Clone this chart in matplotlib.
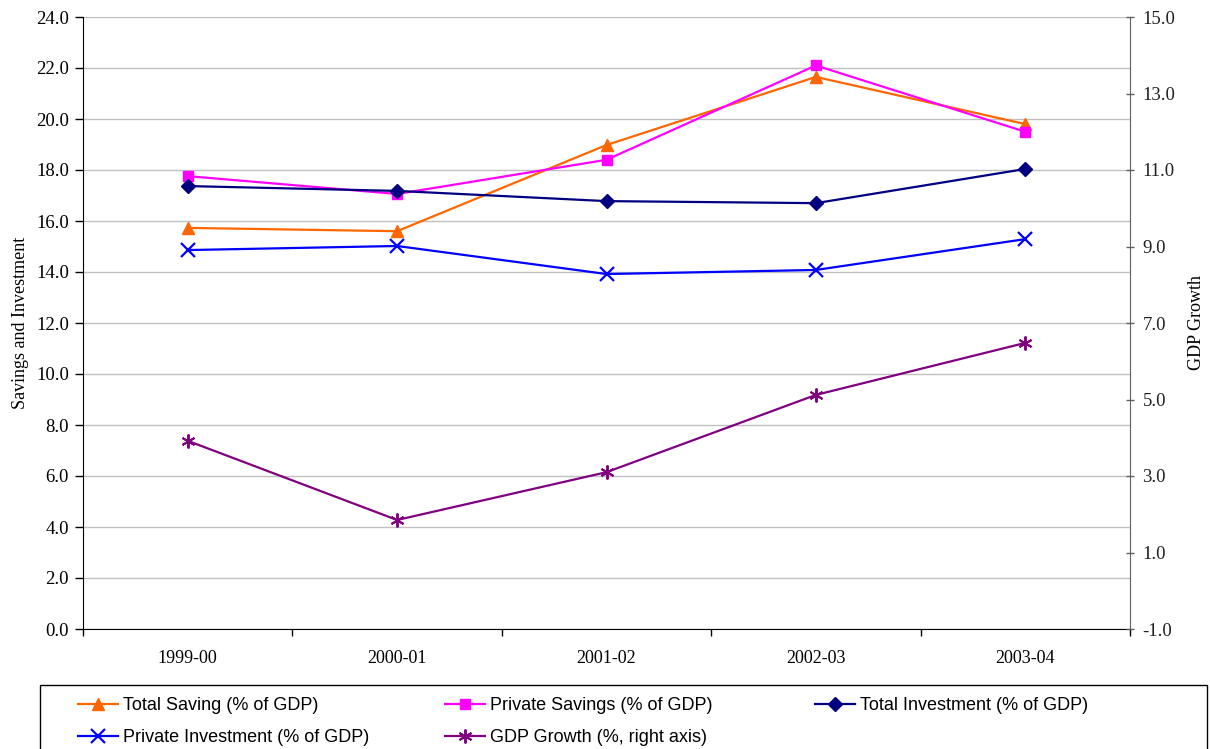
import matplotlib.pyplot as plt
from matplotlib.patches import Rectangle
import numpy as np

years = ['1999-00', '2000-01', '2001-02', '2002-03', '2003-04']
total_saving = [15.73, 15.60, 18.98, 21.65, 19.80]
private_savings = [17.76, 17.06, 18.40, 22.10, 19.50]
total_investment = [17.37, 17.18, 16.78, 16.70, 18.04]
private_investment = [14.86, 15.02, 13.92, 14.08, 15.29]
gdp_growth = [3.92, 1.85, 3.10, 5.12, 6.48]

plt.rcParams['font.family'] = ['Liberation Serif', 'DejaVu Serif']

x = np.arange(len(years))
W, H = 1210, 749

fig = plt.figure(figsize=(W / 100, H / 100), dpi=100)
ax = fig.add_axes([83 / W, 1 - 629 / H, 1047 / W, 612 / H])
ax2 = ax.twinx()

l1, = ax.plot(x, total_saving, color='#FF6600', lw=1.6, marker='^', ms=8,
              label='Total Saving (% of GDP)')
l2, = ax.plot(x, private_savings, color='#FF00FF', lw=1.6, marker='s', ms=7,
              label='Private Savings (% of GDP)')
l3, = ax.plot(x, total_investment, color='#000080', lw=1.6, marker='D', ms=7,
              label='Total Investment (% of GDP)')
l4, = ax.plot(x, private_investment, color='#0000FF', lw=1.6, marker='x', ms=10,
              mew=1.6, label='Private Investment (% of GDP)')
l5, = ax2.plot(x, gdp_growth, color='#800080', lw=1.6, marker=(6, 2, 0), ms=10,
               mew=1.4, label='GDP Growth (%, right axis)')

ax.set_xlim(-0.5, 4.5)
ax.set_ylim(0, 24)
ax.set_yticks(np.arange(0, 24.1, 2))
ax.set_yticklabels([f'{v:.1f}' for v in np.arange(0, 24.1, 2)])
ax2.set_ylim(-1, 15)
ax2.set_yticks(np.arange(-1, 15.1, 2))
ax2.set_yticklabels([f'{v:.1f}' for v in np.arange(-1, 15.1, 2)])

ax.set_xticks(x)
ax.set_xticklabels(years)
ax.set_xticks(np.arange(-0.5, 4.6, 1), minor=True)
ax.tick_params(axis='x', which='major', length=0, pad=15, labelsize=13)
ax.tick_params(axis='x', which='minor', length=5, width=1, direction='out')
ax.tick_params(axis='y', length=6, width=1, direction='out', labelsize=13.5, pad=4)
ax2.tick_params(axis='y', length=6, width=1, direction='inout', labelsize=13.5,
                pad=6, labelcolor='#202020', color='#606060')

ax.grid(axis='y', color='#C0C0C0', lw=1.0)
ax.set_axisbelow(True)
ax.spines['top'].set_visible(False)
ax2.spines['top'].set_visible(False)
ax.spines['right'].set_visible(False)
ax2.spines['left'].set_visible(False)
ax2.spines['bottom'].set_visible(False)
ax2.spines['right'].set_color('#606060')

ax.set_ylabel('Savings and Investment', fontsize=13, labelpad=5)
ax2.set_ylabel('GDP Growth', fontsize=13, labelpad=9)

# legend box spanning the bottom, three fixed-width columns
fig.add_artist(Rectangle((40 / W, -0.2), 1167 / W, 0.2 + 1 - 685 / H,
                         transform=fig.transFigure, fill=False,
                         edgecolor='black', lw=1.0, clip_on=False))
columns = [[l1, l4], [l2, l5], [l3]]
col_x = [78, 445, 815]
for hs, cx in zip(columns, col_x):
    fig.legend(hs, [h.get_label() for h in hs], loc='upper left',
               bbox_to_anchor=(cx / W, 1 - 697 / H), frameon=False,
               prop={'family': 'Liberation Sans', 'size': 13},
               handlelength=2.2, handletextpad=0.28, borderpad=0,
               labelspacing=0.85, borderaxespad=0, markerscale=1.0)

fig.savefig('out.png', dpi=100)
